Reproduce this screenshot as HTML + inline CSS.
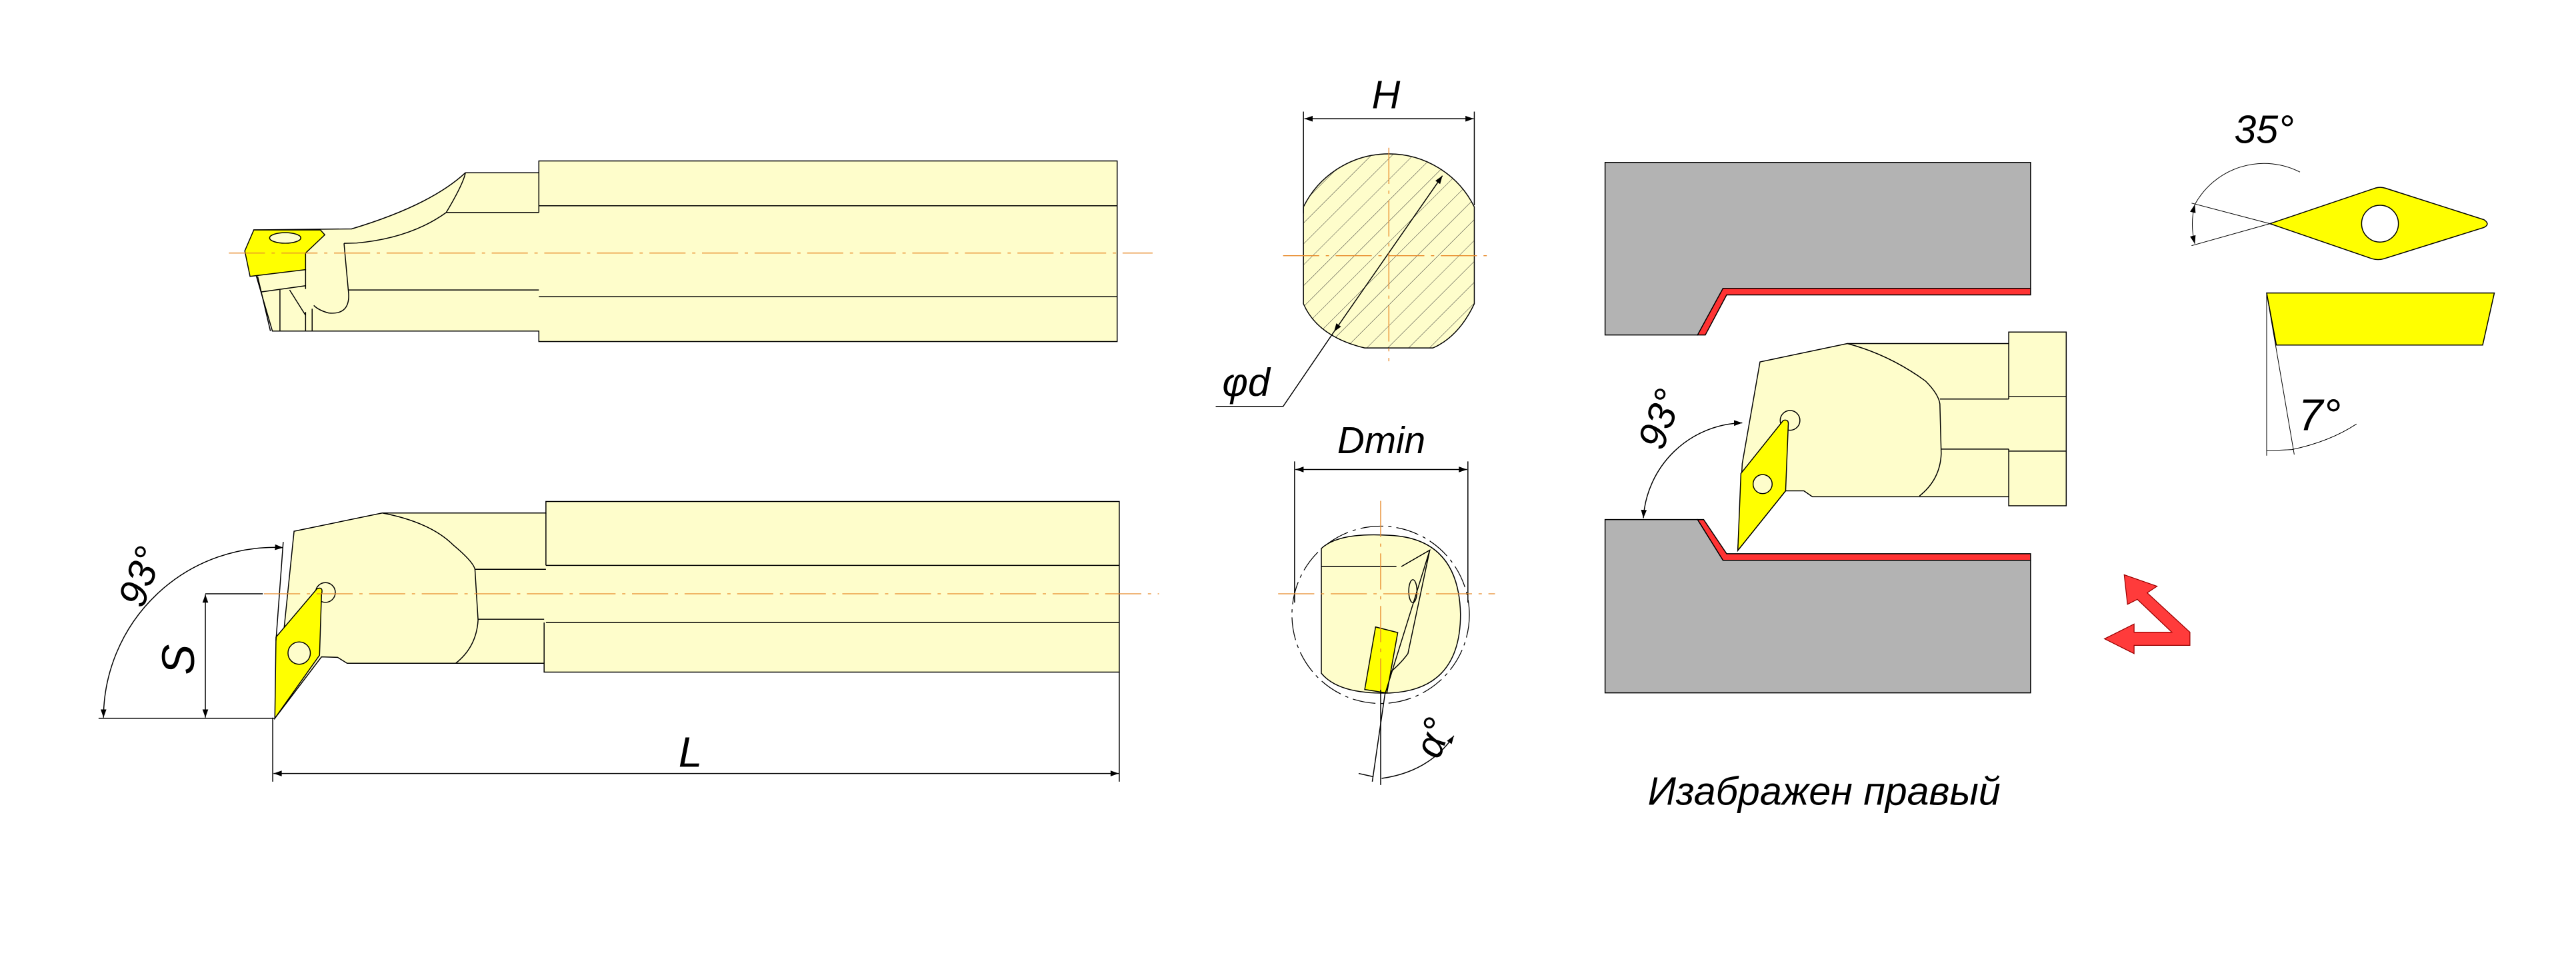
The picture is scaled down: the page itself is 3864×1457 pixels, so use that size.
<!DOCTYPE html>
<html><head><meta charset="utf-8"><style>html,body{margin:0;padding:0;background:#fff}svg{display:block}
text{font-family:"Liberation Sans Narrow","Liberation Sans",sans-serif;font-style:italic;fill:#000}</style></head>
<body>
<svg width="3864" height="1457" viewBox="0 0 1568 591.3" preserveAspectRatio="none" xmlns="http://www.w3.org/2000/svg">
<defs>
<pattern id="hat" width="9" height="9" patternUnits="userSpaceOnUse" patternTransform="rotate(45)">
<rect width="9" height="9" fill="#FEFDCB"/><line x1="0" y1="0" x2="0" y2="9" stroke="#333" stroke-width="0.4"/></pattern>
<marker id="ar" viewBox="0 0 10 10" refX="10" refY="5" markerWidth="7" markerHeight="5" orient="auto-start-reverse" markerUnits="userSpaceOnUse"><path d="M0,1.5 L10,5 L0,8.5z" fill="#000"/></marker>
</defs>
<g stroke="#000" stroke-width="0.6" fill="none">

<!-- TOP VIEW -->
<path d="M154.5,140 L214,139.4 Q262,125 283.3,105.2 L328,105.2 L328,98 L680,98 L680,208 L328,208 L328,201.6 L165.8,201.6 L156,168 Z" fill="#FEFDCB"/>
<line x1="328" y1="125.3" x2="680" y2="125.3"/><line x1="328" y1="180.7" x2="680" y2="180.7"/>
<line x1="271.6" y1="129.4" x2="328" y2="129.4"/><line x1="209.4" y1="148.2" x2="212" y2="176.6"/>
<line x1="212" y1="176.6" x2="328" y2="176.6"/><line x1="328" y1="105.2" x2="328" y2="129.4"/>
<path d="M209.4,148.2 L217,148 Q250,145 271.6,129.4 Q282,112 283.3,105.2"/>
<path d="M212,176.6 Q214,192 200,190.6 Q194,189 191,186"/>
<line x1="156.8" y1="168.3" x2="164.6" y2="201.6"/><line x1="158.8" y1="177.8" x2="186" y2="174"/>
<line x1="170.4" y1="176.5" x2="170.4" y2="201.6"/><line x1="176.3" y1="176.6" x2="186" y2="192"/>
<line x1="186" y1="190" x2="186" y2="201.6"/><line x1="190" y1="188" x2="190" y2="201.6"/>
<line x1="186" y1="164" x2="186" y2="176"/>
<path d="M149,152.8 L154.5,140 L195,140 L197.7,143 L186,154.1 L186,164.2 L152.2,168.3 Z" fill="#FFFF00"/>
<ellipse cx="173.6" cy="144.9" rx="9.5" ry="3.2" fill="#FEFDCB"/>

<!-- BOTTOM VIEW -->
<path d="M179,323.5 L232.7,312.4 L332.3,312.4 L332.3,305.4 L681.3,305.4 L681.3,409.3 L331.2,409.3 L331.2,403.9 L211.3,403.9 L205.5,400.3 L195.7,400 L167.3,437.4 Z" fill="#FEFDCB"/>
<line x1="332.3" y1="344.3" x2="681.3" y2="344.3"/><line x1="332.3" y1="379.1" x2="681.3" y2="379.1"/>
<line x1="332.3" y1="312.4" x2="332.3" y2="344.3"/><line x1="331.2" y1="379.1" x2="331.2" y2="403.9"/>
<line x1="289.1" y1="346.7" x2="332.3" y2="346.7"/><line x1="291" y1="377.1" x2="331.2" y2="377.1"/>
<path d="M232.7,312.4 Q262,318 276,332 Q288,342 289.1,346.7 L291,377.6 Q290,394 277.4,403.9"/>
<circle cx="198.1" cy="360.8" r="6" fill="#FEFDCB"/>
<path d="M167.3,437.4 L168,388 L193,358.5 Q197,357 195.7,362 L194.5,399 Z" fill="#FFFF00"/>
<circle cx="182.1" cy="397.7" r="6.8" fill="#FEFDCB"/>
<line x1="172.4" y1="330" x2="168" y2="390"/>
<!-- dims -->
<line x1="125" y1="361.6" x2="160" y2="361.6"/><line x1="60" y1="437.4" x2="167" y2="437.4"/>
<line x1="125" y1="362" x2="125" y2="437" marker-start="url(#ar)" marker-end="url(#ar)"/>
<path d="M63,437 A104,104 0 0 1 172.4,333.5" marker-start="url(#ar)" marker-end="url(#ar)"/>
<line x1="166" y1="437" x2="166" y2="476"/><line x1="681.3" y1="409.3" x2="681.3" y2="476"/>
<line x1="166.5" y1="471" x2="681" y2="471" marker-start="url(#ar)" marker-end="url(#ar)"/>

<!-- H SECTION -->
<path d="M793.4,126 A58,58 0 0 1 897.4,126 L897.4,185 Q888,205 872.2,211.9 L830.7,211.9 Q802,205 793.4,185 Z" fill="url(#hat)"/>
<line x1="793.4" y1="68" x2="793.4" y2="130"/><line x1="897.4" y1="68" x2="897.4" y2="125"/>
<line x1="794" y1="72.3" x2="897" y2="72.3" marker-start="url(#ar)" marker-end="url(#ar)"/>
<line x1="878" y1="107" x2="812" y2="202" marker-start="url(#ar)" marker-end="url(#ar)"/>
<polyline points="812,202 781,247.5 740,247.5"/>

<!-- Dmin SECTION -->
<circle cx="840.4" cy="374.4" r="54" stroke-dasharray="14,3,2,3" stroke-width="0.5"/>
<path d="M804.3,334 Q815,324 846,326 Q888,328 889,374 Q889,420 846,422 Q815,423 804.3,410 Z" fill="#FEFDCB"/>
<line x1="804.3" y1="345" x2="850" y2="345"/>
<path d="M853,345 L870.3,335 L857,398 Q852,405 843,412" />
<ellipse cx="860" cy="360" rx="2.5" ry="7" fill="#FEFDCB"/>
<path d="M837.3,381.8 L850.8,385.2 L844.2,422 L830.7,419.9 Z" fill="#FFFF00"/>
<line x1="870.3" y1="335" x2="843" y2="422.8"/><line x1="843" y1="422.8" x2="835.3" y2="476"/>
<line x1="840.4" y1="420" x2="840.4" y2="478"/>
<line x1="788" y1="281" x2="788" y2="367"/><line x1="893.5" y1="281" x2="893.5" y2="367"/>
<line x1="788.5" y1="285.9" x2="893" y2="285.9" marker-start="url(#ar)" marker-end="url(#ar)"/>
<path d="M827,471 L836,473 M841,474 Q870,470 885,448" marker-end="url(#ar)"/>

<!-- BORE VIEW -->
<path d="M977,98.9 L1236,98.9 L1236,175.6 L1048.8,175.6 L1033.3,204 L977,204 Z" fill="#B3B3B3"/>
<path d="M1033.3,204 L1048.8,175.6 L1236,175.6 L1236,179.6 L1051,179.6 L1038,204 Z" fill="#FF3333"/>
<path d="M977,316.4 L1033.3,316.4 L1048.8,341.2 L1236,341.2 L1236,421.9 L977,421.9 Z" fill="#B3B3B3"/>
<path d="M1033.3,316.4 L1037,316.4 L1051,337.2 L1236,337.2 L1236,341.2 L1048.8,341.2 Z" fill="#FF3333"/>
<path d="M1071.3,220.4 L1124.5,209.2 L1222.7,209.2 L1222.7,202.2 L1257.7,202.2 L1257.7,308 L1222.7,308 L1222.7,302.5 L1103.2,302.5 L1098,298.9 L1086.9,298.9 L1057.8,335.2 L1060.5,282.3 Z" fill="#FEFDCB"/>
<path d="M1124.5,209.2 Q1150,216 1172,232 Q1180,240 1180.8,246 L1181.6,276.3 Q1181,292 1168.4,302"/>
<line x1="1180.8" y1="243" x2="1222.7" y2="243"/><line x1="1181.6" y1="273.5" x2="1222.7" y2="273.5"/>
<line x1="1222.7" y1="241.5" x2="1257.7" y2="241.5"/><line x1="1222.7" y1="274.7" x2="1257.7" y2="274.7"/>
<line x1="1222.7" y1="209.2" x2="1222.7" y2="243"/><line x1="1222.7" y1="273.5" x2="1222.7" y2="302.5"/>
<circle cx="1089.6" cy="256" r="6" fill="#FEFDCB"/>
<path d="M1057.8,335.2 L1059.7,288.3 L1085.5,256 Q1089,255 1088.5,259 L1086.9,298.9 Z" fill="#FFFF00"/>
<circle cx="1072.9" cy="294.8" r="5.8" fill="#FEFDCB"/>
<path d="M1000.3,315.5 A62,62 0 0 1 1060.5,257.5" marker-start="url(#ar)" marker-end="url(#ar)"/>

<!-- red arrow -->
<path d="M1293,350 L1313,357 L1307,361 L1333,385 L1333,393 L1299,393 L1299,398 L1281,389 L1299,380 L1299,385 L1322,385 L1301,365 L1295,368 Z" fill="#FF3B3B" stroke="#900" stroke-width="0.5"/>

<!-- 35 insert -->
<path d="M1381.7,136.2 L1446,114.5 Q1449,113.6 1452,114.6 L1512,133.8 Q1516,136.5 1512,138.5 L1451,157.6 Q1447.6,158.6 1444,157.6 Z" fill="#FFFF00"/>
<circle cx="1448.7" cy="136.2" r="11.2" fill="#fff"/>
<line x1="1381.7" y1="136.2" x2="1334" y2="123.7" stroke-width="0.4"/><line x1="1381.7" y1="136.2" x2="1334" y2="149.6" stroke-width="0.4"/>
<path d="M1336,148.5 A48,48 0 0 1 1336,124.5" stroke-width="0.4" marker-start="url(#ar)" marker-end="url(#ar)"/>
<path d="M1336,124.5 A48,48 0 0 1 1400,104.8" stroke-width="0.4"/>
<path d="M1379.7,178.4 L1518.3,178.4 L1511.2,210.1 L1385.6,210.1 Z" fill="#FFFF00"/>
<line x1="1379.7" y1="178.4" x2="1379.7" y2="277.5" stroke-width="0.4"/>
<line x1="1379.7" y1="178.4" x2="1396.5" y2="276.8" stroke-width="0.4"/>
<path d="M1379.7,274.5 L1395,273.8 Q1418,269 1434.4,258.2" stroke-width="0.4"/>
</g>

<!-- centerlines -->
<g stroke="#E88A2A" stroke-width="0.55" stroke-dasharray="22,4,2,4" fill="none">
<line x1="139.3" y1="154.1" x2="701.6" y2="154.1"/>
<line x1="160.7" y1="361.6" x2="705.5" y2="361.6"/>
<line x1="781" y1="155.7" x2="909" y2="155.7"/><line x1="845.4" y1="90" x2="845.4" y2="220"/>
<line x1="778" y1="361.6" x2="910" y2="361.6"/><line x1="840.4" y1="305" x2="840.4" y2="420"/>
</g>

<!-- labels -->
<text x="835" y="66" font-size="24">H</text>
<text x="744" y="241" font-size="24">φd</text>
<text x="814" y="276" font-size="23">Dmin</text>
<text x="413" y="467" font-size="26">L</text>
<text transform="translate(118,411) rotate(-90)" font-size="28">S</text>
<text transform="translate(87,371) rotate(-70)" font-size="24">93°</text>
<text transform="translate(1012,275) rotate(-70)" font-size="24">93°</text>
<text transform="translate(876,463) rotate(-70)" font-size="24">α°</text>
<text x="1360" y="87" font-size="24">35°</text>
<text x="1399" y="262" font-size="27">7°</text>
<text x="1003" y="490" font-size="24">Изабражен правый</text>
</svg>
</body></html>
